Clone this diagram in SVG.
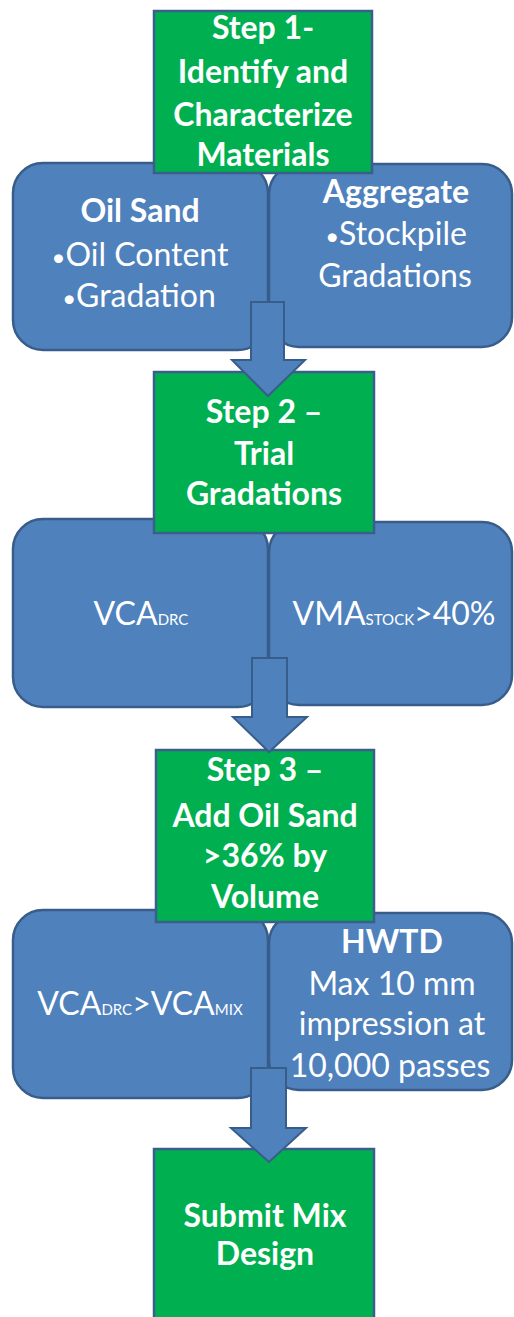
<svg xmlns="http://www.w3.org/2000/svg" width="514" height="1317" viewBox="0 0 514 1317">
<style>
.step{fill:#00B050;stroke:#3B5E8C;stroke-width:2.5}
.box{fill:#4F81BD;stroke:#385D8A;stroke-width:2.5}
.arrow{fill:#4F81BD;stroke:#385D8A;stroke-width:2}
text{font-family:Lato,"Open Sans","Liberation Sans",sans-serif;fill:#FFFFFF;text-anchor:middle;font-size:32px}
.b{font-weight:bold}
.sub{font-size:15px}
.bul{font-size:24px}
</style>
<rect width="514" height="1317" fill="#FFFFFF"/>
<g id="oil-sand">
<rect class="box" x="13" y="163" width="255" height="187" rx="30"/>
<text x="140" y="222" class="b">Oil Sand</text>
<text x="140" y="266"><tspan class="bul">•</tspan>Oil Content</text>
<text x="139" y="307"><tspan class="bul">•</tspan>Gradation</text>
</g>
<g id="aggregate">
<rect class="box" x="269" y="164" width="243" height="183" rx="30"/>
<text x="396" y="203" class="b">Aggregate</text>
<text x="396" y="245"><tspan class="bul">•</tspan>Stockpile</text>
<text x="395" y="287">Gradations</text>
</g>
<g id="step1">
<rect class="step" x="154" y="11" width="218" height="162"/>
<text class="b" x="263" y="39">Step 1-</text>
<text class="b" x="263" y="83">Identify and</text>
<text class="b" x="263" y="126">Characterize</text>
<text class="b" x="263" y="166">Materials</text>
</g>
<g id="vca-drc">
<rect class="box" x="13" y="519" width="255" height="188" rx="30"/>
<text x="141" y="625">VCA<tspan class="sub">DRC</tspan></text>
</g>
<g id="vma-stock">
<rect class="box" x="269" y="522" width="243" height="183" rx="30"/>
<text x="394" y="625">VMA<tspan class="sub">STOCK</tspan>&gt;40%</text>
</g>
<g id="step2">
<rect class="step" x="154" y="372" width="220" height="161"/>
<text class="b" x="264" y="423">Step 2 –</text>
<text class="b" x="264" y="465">Trial</text>
<text class="b" x="264" y="505">Gradations</text>
</g>
<g id="vca-mix">
<rect class="box" x="13" y="910" width="255" height="188" rx="30"/>
<text x="140" y="1015">VCA<tspan class="sub">DRC</tspan>&gt;VCA<tspan class="sub">MIX</tspan></text>
</g>
<g id="hwtd">
<rect class="box" x="269" y="913" width="243" height="177" rx="30"/>
<text class="b" x="392" y="953">HWTD</text>
<text x="392" y="995">Max 10 mm</text>
<text x="392" y="1035">impression at</text>
<text x="390" y="1077">10,000 passes</text>
</g>
<g id="step3">
<rect class="step" x="156" y="750" width="218" height="172"/>
<text class="b" x="265" y="781">Step 3 –</text>
<text class="b" x="265" y="827">Add Oil Sand</text>
<text class="b" x="265" y="867">&gt;36% by</text>
<text class="b" x="265" y="908">Volume</text>
</g>
<g id="submit">
<rect class="step" x="154" y="1149" width="220" height="190"/>
<text class="b" x="265" y="1227">Submit Mix</text>
<text class="b" x="265" y="1265">Design</text>
</g>
<g id="connectors">
<path class="arrow" d="M251,302 H284 V360 H305 L268,396 L232,360 H251 Z"/>
<path class="arrow" d="M252,658 H287 V717 H307 L269,752 L233,717 H252 Z"/>
<path class="arrow" d="M251,1068 H286 V1128 H306 L269,1162 L231,1128 H251 Z"/>
</g>
</svg>
